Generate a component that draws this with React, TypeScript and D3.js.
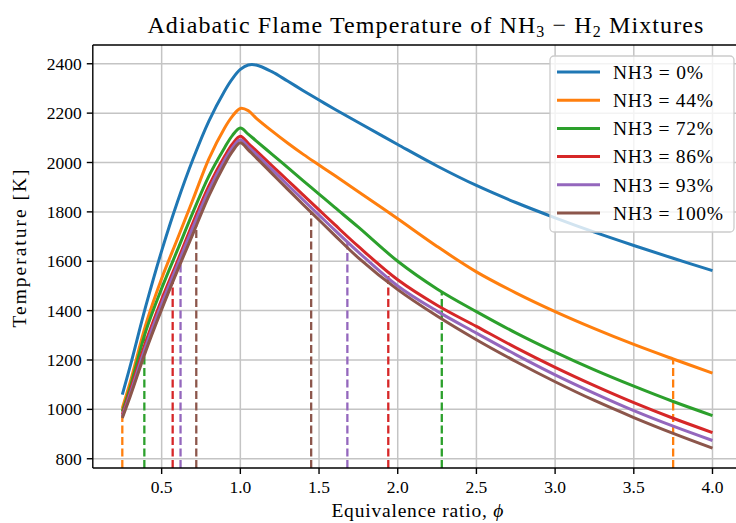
import React from 'react';
import * as d3 from 'd3';

const W = 736;
const H = 523;
// axes box in pixels (right edge falls outside the picture, as in the reference)
const margin = { top: 45, left: 92.8, right: 742, bottom: 468 };

const phi = [0.25, 0.3, 0.4, 0.5, 0.6, 0.7, 0.8, 0.9, 0.95, 1.0, 1.05, 1.1, 1.2, 1.3, 1.4, 1.5, 1.6, 1.75, 2.0, 2.25, 2.5, 2.75, 3.0, 3.25, 3.5, 3.75, 4.0];

const nh3_0 = [1060, 1175, 1420, 1642, 1840, 2015, 2168, 2290, 2340, 2377, 2395, 2395, 2368, 2330, 2291, 2253, 2216, 2162, 2073, 1986, 1907, 1838, 1776, 1718, 1664, 1612, 1562];
const nh3_44 = [1005, 1110, 1345, 1530, 1690, 1852, 2015, 2140, 2188, 2219, 2210, 2180, 2128, 2079, 2033, 1990, 1947, 1882, 1772, 1660, 1557, 1472, 1396, 1327, 1263, 1204, 1147];
const nh3_72 = [990, 1090, 1318, 1490, 1645, 1800, 1945, 2060, 2110, 2140, 2115, 2088, 2034, 1980, 1926, 1872, 1818, 1738, 1600, 1488, 1396, 1310, 1232, 1160, 1094, 1032, 975];
const nh3_86 = [980, 1075, 1275, 1445, 1600, 1758, 1905, 2025, 2075, 2106, 2078, 2048, 1988, 1928, 1868, 1808, 1748, 1660, 1525, 1422, 1336, 1250, 1170, 1096, 1027, 964, 906];
const nh3_93 = [972, 1063, 1258, 1428, 1585, 1740, 1888, 2010, 2060, 2092, 2064, 2034, 1972, 1910, 1848, 1787, 1726, 1637, 1500, 1398, 1309, 1222, 1140, 1065, 995, 932, 874];
const nh3_100 = [965, 1052, 1238, 1405, 1562, 1713, 1865, 1992, 2045, 2080, 2051, 2020, 1956, 1892, 1829, 1767, 1705, 1614, 1485, 1378, 1282, 1194, 1112, 1036, 967, 903, 843];

// equivalence-ratio limits marked with dashed lines
const limits0: number[] = [];
const limits44 = [0.25, 3.75];
const limits72 = [0.39, 2.28];
const limits86 = [0.57, 1.94];
const limits93 = [0.62, 1.68];
const limits100 = [0.72, 1.45];

const labels = ['NH3 = 0%', 'NH3 = 44%', 'NH3 = 72%', 'NH3 = 86%', 'NH3 = 93%', 'NH3 = 100%'];
const colors = ['#1f77b4', '#ff7f0e', '#2ca02c', '#d62728', '#9467bd', '#8c564b'];

const xTicks = [0.5, 1.0, 1.5, 2.0, 2.5, 3.0, 3.5, 4.0];
const yTicks = [800, 1000, 1200, 1400, 1600, 1800, 2000, 2200, 2400];

const series = [
  { values: nh3_0, limits: limits0 },
  { values: nh3_44, limits: limits44 },
  { values: nh3_72, limits: limits72 },
  { values: nh3_86, limits: limits86 },
  { values: nh3_93, limits: limits93 },
  { values: nh3_100, limits: limits100 },
];

const font = '"Liberation Serif", "DejaVu Serif", serif';

export default function App() {
  const x = d3.scaleLinear().domain([0.0625, 4.1875]).range([margin.left, margin.right]);
  const y = d3.scaleLinear().domain([762.5, 2476]).range([margin.bottom, margin.top]);

  const line = d3
    .line<number>()
    .x((_, i) => x(phi[i]))
    .y((d) => y(d))
    .curve(d3.curveCatmullRom.alpha(0.5));

  const legendX = 550;
  const legendY = 56;
  const rowH = 28.2;
  const midX = (margin.left + margin.right) / 2;

  return (
    <svg
      width={W}
      height={H}
      style={{ position: 'absolute', left: 0, top: 0, background: 'white' }}
      fontFamily={font}
    >
      <defs>
        <clipPath id="plot">
          <rect x={margin.left} y={margin.top} width={margin.right - margin.left} height={margin.bottom - margin.top} />
        </clipPath>
      </defs>

      {/* grid */}
      <g stroke="#c4c4c4" strokeWidth={1.5}>
        {xTicks.map((t) => (
          <line key={'gx' + t} x1={x(t)} x2={x(t)} y1={margin.top} y2={margin.bottom} />
        ))}
        {yTicks.map((t) => (
          <line key={'gy' + t} x1={margin.left} x2={margin.right} y1={y(t)} y2={y(t)} />
        ))}
      </g>

      {/* curves, each followed by its dashed limit lines */}
      <g clipPath="url(#plot)">
        {series.map((s, i) => {
          const interp = d3.scaleLinear().domain(phi).range(s.values);
          return (
            <g key={labels[i]}>
              <path d={line(s.values) || ''} fill="none" stroke={colors[i]} strokeWidth={3} />
              {s.limits.map((p) => (
                <line
                  key={p}
                  x1={x(p)}
                  x2={x(p)}
                  y1={margin.bottom}
                  y2={y(interp(p))}
                  stroke={colors[i]}
                  strokeWidth={2.3}
                  strokeDasharray="8 3.5"
                />
              ))}
            </g>
          );
        })}
      </g>

      {/* spines */}
      <g stroke="black" strokeWidth={1.4} fill="none">
        <line x1={margin.left} x2={margin.left} y1={margin.top} y2={margin.bottom} />
        <line x1={margin.left} x2={margin.right} y1={margin.bottom} y2={margin.bottom} />
        <line x1={margin.left} x2={margin.right} y1={margin.top} y2={margin.top} />
        <line x1={margin.right} x2={margin.right} y1={margin.top} y2={margin.bottom} />
      </g>

      {/* x axis */}
      <g fontSize={17.5} textAnchor="middle">
        {xTicks.map((t) => (
          <g key={'xt' + t}>
            <line x1={x(t)} x2={x(t)} y1={margin.bottom} y2={margin.bottom + 6} stroke="black" strokeWidth={1.4} />
            <text x={x(t)} y={margin.bottom + 25}>{t.toFixed(1)}</text>
          </g>
        ))}
      </g>

      {/* y axis */}
      <g fontSize={17.5} textAnchor="end">
        {yTicks.map((t) => (
          <g key={'yt' + t}>
            <line x1={margin.left - 6} x2={margin.left} y1={y(t)} y2={y(t)} stroke="black" strokeWidth={1.4} />
            <text x={margin.left - 11} y={y(t)} dy="0.35em">{t}</text>
          </g>
        ))}
      </g>

      <text x={midX} y={517} fontSize={19.5} textAnchor="middle" textLength={172} lengthAdjust="spacing">
        Equivalence ratio, <tspan fontStyle="italic">ϕ</tspan>
      </text>
      <text
        transform={`translate(26, ${(margin.top + margin.bottom) / 2 - 8}) rotate(-90)`}
        fontSize={19.5}
        textAnchor="middle"
        textLength={158}
        lengthAdjust="spacing"
      >
        Temperature [K]
      </text>

      <text x={midX + 8} y={33} fontSize={24} textAnchor="middle" textLength={556} lengthAdjust="spacing">
        Adiabatic Flame Temperature of NH<tspan fontSize={16} dy={4}>3</tspan>
        <tspan dy={-4}> − H</tspan>
        <tspan fontSize={16} dy={4}>2</tspan>
        <tspan dy={-4}> Mixtures</tspan>
      </text>

      {/* legend */}
      <g>
        <rect
          x={legendX}
          y={legendY}
          width={184}
          height={176}
          rx={4}
          fill="white"
          fillOpacity={0.8}
          stroke="#cccccc"
          strokeWidth={1.3}
        />
        {labels.map((l, i) => {
          const cy = legendY + 16 + i * rowH;
          return (
            <g key={l}>
              <line x1={legendX + 7} x2={legendX + 50} y1={cy} y2={cy} stroke={colors[i]} strokeWidth={3} />
              <text
                x={legendX + 63}
                y={cy}
                dy="0.35em"
                fontSize={19.5}
                textLength={10 * l.length + 10}
                lengthAdjust="spacing"
              >
                {l}
              </text>
            </g>
          );
        })}
      </g>
    </svg>
  );
}
